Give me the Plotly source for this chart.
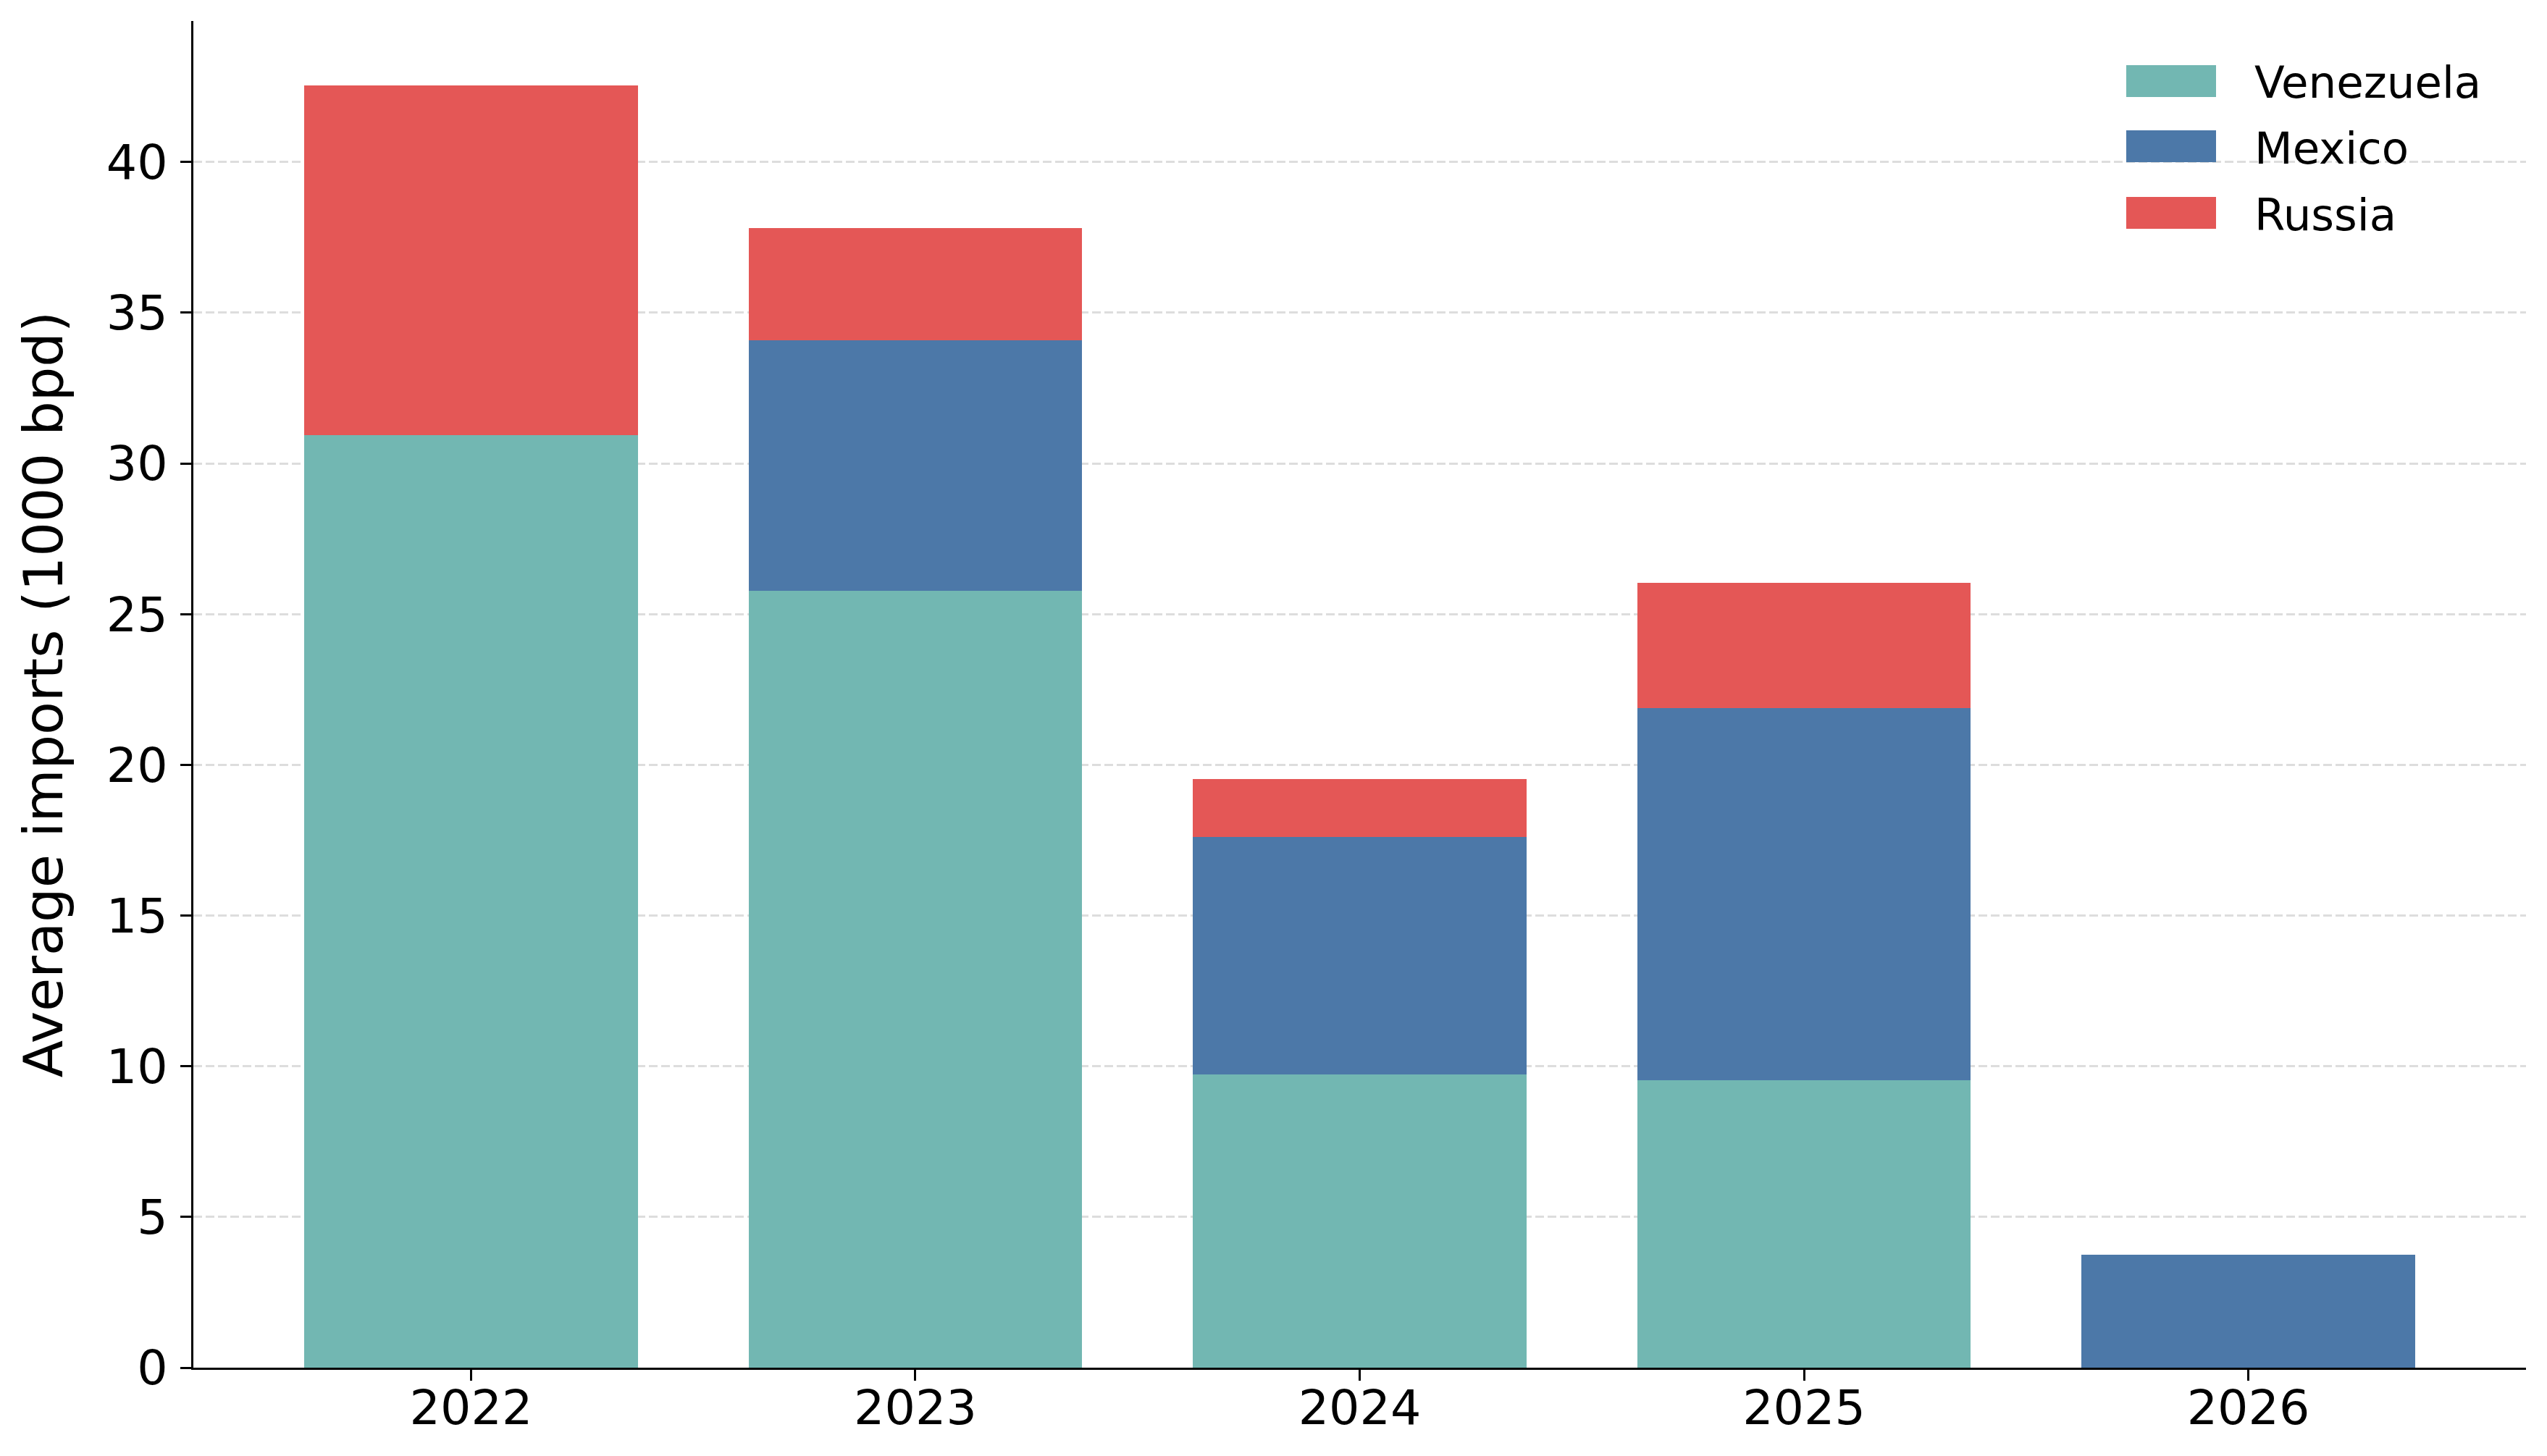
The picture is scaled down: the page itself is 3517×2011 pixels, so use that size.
import plotly.graph_objects as go

years = ["2022", "2023", "2024", "2025", "2026"]
series_names = ["Venezuela", "Mexico", "Russia"]
venezuela = [30.94, 25.78, 9.74, 9.53, 0.0]
mexico = [0.0, 8.31, 7.86, 12.35, 3.75]
russia = [11.61, 3.71, 1.93, 4.15, 0.0]
colors = ["#72B7B2", "#4C78A8", "#E45756"]
y_ticks = [0, 5, 10, 15, 20, 25, 30, 35, 40]
y_title = "Average imports (1000 bpd)"

# page body has an 8px margin, so the figure is sized to fit inside it
W, H = 3501, 1995
ML, MR, MT, MB = 259, 21, 21, 114
OFF = 8
FONT = "DejaVu Sans"

fig = go.Figure()
for name, vals, col in zip(series_names, [venezuela, mexico, russia], colors):
    fig.add_trace(go.Bar(
        x=years, y=vals, name=name, width=0.75,
        marker=dict(color=col, line=dict(width=0)),
        showlegend=False,
    ))

# custom legend (large swatches like the reference); positions in page pixels
pw = W - ML - MR
ph = H - MT - MB
def px_x(x):
    return (x - OFF - ML) / pw
def px_y(y):
    return (H - MB - (y - OFF)) / ph

row_centers = [112, 202, 294]
shapes = []
annotations = []
for name, col, cy in zip(series_names, colors, row_centers):
    shapes.append(dict(
        type="rect", xref="paper", yref="paper",
        x0=px_x(2936), x1=px_x(3060), y0=px_y(cy + 22), y1=px_y(cy - 22),
        fillcolor=col, line=dict(width=0), layer="above",
    ))
    annotations.append(dict(
        xref="paper", yref="paper", x=px_x(3111), y=px_y(cy + 2),
        xanchor="left", yanchor="middle", text=name, showarrow=False,
        font=dict(family=FONT, size=61, color="black"),
    ))

fig.update_layout(
    template="none",
    width=W, height=H,
    margin=dict(l=ML, r=MR, t=MT, b=MB, pad=0),
    paper_bgcolor="white", plot_bgcolor="white",
    barmode="stack",
    font=dict(family=FONT, size=66.7, color="black"),
    shapes=shapes,
    annotations=annotations,
    showlegend=False,
    xaxis=dict(
        type="category", range=[-0.625, 4.625],
        showline=True, linecolor="black", linewidth=3,
        ticks="outside", ticklen=15, tickwidth=3, tickcolor="black",
        showgrid=False, zeroline=False,
        ticklabelstandoff=-20,
        tickfont=dict(family=FONT, size=66.7, color="black"),
    ),
    yaxis=dict(
        range=[0, 44.68], tickvals=y_ticks,
        showline=True, linecolor="black", linewidth=3,
        ticks="outside", ticklen=15, tickwidth=3, tickcolor="black",
        showgrid=True, gridcolor="#dddddd", gridwidth=3.3, griddash="12px,5px",
        zeroline=False,
        ticklabelstandoff=4,
        tickfont=dict(family=FONT, size=66.7, color="black"),
        title=dict(text=y_title, font=dict(family=FONT, size=75, color="black"), standoff=36),
        automargin=False,
    ),
)

fig.write_html("out.html")
